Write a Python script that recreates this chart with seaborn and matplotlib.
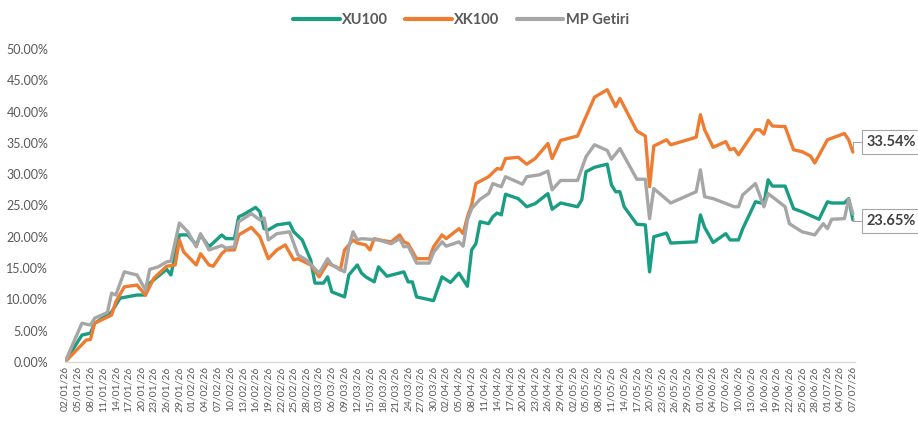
import pandas as pd
import matplotlib
matplotlib.use("Agg")
import matplotlib.pyplot as plt
import matplotlib.transforms as mtrans
from matplotlib.lines import Line2D
import seaborn as sns

series_names = ["XU100", "XK100", "MP Getiri"]
series_colors = ["#1a9e83", "#ee7c31", "#a6a6a6"]

xu100_dates = ["2026-01-02", "2026-01-06", "2026-01-08", "2026-01-09", "2026-01-12", "2026-01-13",
               "2026-01-15", "2026-01-19", "2026-01-21", "2026-01-22", "2026-01-26", "2026-01-27",
               "2026-01-29", "2026-01-31", "2026-02-02", "2026-02-03", "2026-02-05", "2026-02-08",
               "2026-02-09", "2026-02-11", "2026-02-12", "2026-02-13", "2026-02-16", "2026-02-17",
               "2026-02-18", "2026-02-19", "2026-02-21", "2026-02-24", "2026-02-25", "2026-02-27",
               "2026-03-01", "2026-03-02", "2026-03-04", "2026-03-05", "2026-03-06", "2026-03-09",
               "2026-03-10", "2026-03-12", "2026-03-13", "2026-03-14", "2026-03-16", "2026-03-17",
               "2026-03-19", "2026-03-23", "2026-03-24", "2026-03-25", "2026-03-26", "2026-03-30",
               "2026-04-01", "2026-04-03", "2026-04-05", "2026-04-07", "2026-04-08", "2026-04-09",
               "2026-04-10", "2026-04-12", "2026-04-13", "2026-04-14", "2026-04-15", "2026-04-16",
               "2026-04-19", "2026-04-21", "2026-04-23", "2026-04-26", "2026-04-27", "2026-04-29",
               "2026-05-03", "2026-05-04", "2026-05-05", "2026-05-07", "2026-05-10", "2026-05-11",
               "2026-05-12", "2026-05-13", "2026-05-14", "2026-05-17", "2026-05-19", "2026-05-20",
               "2026-05-21", "2026-05-24", "2026-05-25", "2026-05-31", "2026-06-01", "2026-06-02",
               "2026-06-04", "2026-06-07", "2026-06-08", "2026-06-10", "2026-06-11", "2026-06-14",
               "2026-06-16", "2026-06-17", "2026-06-18", "2026-06-21", "2026-06-23", "2026-06-25",
               "2026-06-29", "2026-07-01", "2026-07-02", "2026-07-05", "2026-07-06", "2026-07-07"]
xu100_values = [0.0, 4.3, 4.6, 6.2, 7.5, 8.0,
                10.2, 10.7, 10.7, 12.6, 14.8, 13.9,
                20.3, 20.3, 18.7, 20.3, 18.4, 20.3,
                19.7, 19.7, 23.2, 23.5, 24.7, 24.0,
                21.3, 21.1, 21.9, 22.2, 20.8, 19.5,
                16.3, 12.6, 12.6, 13.6, 11.2, 10.4,
                13.9, 15.5, 14.2, 13.6, 12.8, 15.2,
                13.7, 14.4, 12.8, 12.8, 10.4, 9.8,
                13.6, 12.7, 14.2, 12.1, 17.9, 18.9,
                22.4, 22.1, 23.2, 23.8, 23.5, 26.8,
                26.1, 24.8, 25.3, 26.9, 24.4, 25.4,
                24.8, 25.9, 30.4, 31.1, 31.6, 28.3,
                27.2, 27.2, 24.8, 22.0, 21.9, 14.4,
                20.0, 20.6, 19.0, 19.2, 23.5, 21.5,
                19.1, 20.5, 19.5, 19.5, 21.3, 25.6,
                25.3, 29.1, 28.1, 28.1, 24.5, 24.0,
                22.8, 25.6, 25.4, 25.4, 26.1, 22.7]

xk100_dates = ["2026-01-02", "2026-01-07", "2026-01-08", "2026-01-09", "2026-01-13", "2026-01-14",
               "2026-01-16", "2026-01-19", "2026-01-21", "2026-01-23", "2026-01-26", "2026-01-28",
               "2026-01-29", "2026-01-30", "2026-02-02", "2026-02-03", "2026-02-05", "2026-02-06",
               "2026-02-08", "2026-02-09", "2026-02-11", "2026-02-12", "2026-02-15", "2026-02-17",
               "2026-02-19", "2026-02-21", "2026-02-23", "2026-02-25", "2026-02-26", "2026-03-01",
               "2026-03-03", "2026-03-05", "2026-03-07", "2026-03-08", "2026-03-09", "2026-03-11",
               "2026-03-12", "2026-03-14", "2026-03-15", "2026-03-16", "2026-03-18", "2026-03-20",
               "2026-03-22", "2026-03-23", "2026-03-24", "2026-03-26", "2026-03-29", "2026-03-30",
               "2026-04-01", "2026-04-02", "2026-04-05", "2026-04-06", "2026-04-07", "2026-04-08",
               "2026-04-09", "2026-04-12", "2026-04-14", "2026-04-15", "2026-04-16", "2026-04-19",
               "2026-04-21", "2026-04-23", "2026-04-26", "2026-04-27", "2026-04-29", "2026-05-03",
               "2026-05-05", "2026-05-07", "2026-05-10", "2026-05-12", "2026-05-13", "2026-05-17",
               "2026-05-19", "2026-05-20", "2026-05-21", "2026-05-24", "2026-05-25", "2026-05-31",
               "2026-06-01", "2026-06-02", "2026-06-04", "2026-06-07", "2026-06-08", "2026-06-09",
               "2026-06-10", "2026-06-14", "2026-06-15", "2026-06-16", "2026-06-17", "2026-06-18",
               "2026-06-21", "2026-06-23", "2026-06-25", "2026-06-27", "2026-06-28", "2026-07-01",
               "2026-07-05", "2026-07-06", "2026-07-07"]
xk100_values = [0.0, 3.5, 3.6, 6.2, 7.5, 9.6,
                12.0, 12.3, 10.7, 13.4, 15.3, 15.5,
                19.5, 17.6, 15.5, 17.3, 15.5, 15.3,
                17.3, 17.9, 17.9, 20.3, 21.5, 20.0,
                16.5, 17.9, 18.7, 16.3, 16.5, 15.5,
                13.6, 15.8, 15.2, 14.7, 17.9, 19.5,
                19.0, 18.7, 17.9, 19.7, 19.4, 19.2,
                20.3, 19.2, 18.9, 16.5, 16.5, 18.4,
                20.3, 19.7, 21.3, 20.5, 23.2, 25.1,
                28.5, 29.6, 30.9, 30.8, 32.5, 32.7,
                31.6, 32.5, 34.9, 32.5, 35.4, 36.1,
                39.2, 42.3, 43.5, 40.8, 42.1, 36.9,
                36.1, 28.0, 34.5, 35.5, 34.7, 35.9,
                39.5, 37.1, 34.3, 35.2, 33.9, 34.1,
                33.1, 37.1, 37.1, 36.4, 38.6, 37.7,
                37.6, 33.9, 33.6, 32.9, 31.8, 35.5,
                36.5, 35.5, 33.54]

mp_dates = ["2026-01-02", "2026-01-06", "2026-01-08", "2026-01-09", "2026-01-12", "2026-01-13",
            "2026-01-14", "2026-01-16", "2026-01-19", "2026-01-21", "2026-01-22", "2026-01-24",
            "2026-01-26", "2026-01-27", "2026-01-29", "2026-01-31", "2026-02-02", "2026-02-03",
            "2026-02-05", "2026-02-08", "2026-02-09", "2026-02-11", "2026-02-12", "2026-02-15",
            "2026-02-17", "2026-02-18", "2026-02-19", "2026-02-21", "2026-02-24", "2026-02-26",
            "2026-02-28", "2026-03-03", "2026-03-05", "2026-03-06", "2026-03-09", "2026-03-10",
            "2026-03-11", "2026-03-12", "2026-03-13", "2026-03-17", "2026-03-20", "2026-03-22",
            "2026-03-23", "2026-03-24", "2026-03-26", "2026-03-29", "2026-03-30", "2026-04-01",
            "2026-04-02", "2026-04-05", "2026-04-06", "2026-04-07", "2026-04-08", "2026-04-10",
            "2026-04-12", "2026-04-13", "2026-04-15", "2026-04-16", "2026-04-20", "2026-04-21",
            "2026-04-24", "2026-04-26", "2026-04-27", "2026-04-29", "2026-05-03", "2026-05-05",
            "2026-05-07", "2026-05-10", "2026-05-11", "2026-05-13", "2026-05-17", "2026-05-19",
            "2026-05-20", "2026-05-21", "2026-05-25", "2026-05-31", "2026-06-01", "2026-06-02",
            "2026-06-04", "2026-06-09", "2026-06-10", "2026-06-11", "2026-06-14", "2026-06-16",
            "2026-06-17", "2026-06-21", "2026-06-22", "2026-06-25", "2026-06-28", "2026-06-30",
            "2026-07-01", "2026-07-02", "2026-07-05", "2026-07-06", "2026-07-07"]
mp_values = [0.0, 6.2, 5.9, 7.0, 7.9, 11.0,
             10.7, 14.4, 13.9, 11.5, 14.8, 15.2,
             16.0, 16.1, 22.2, 20.8, 18.4, 20.5,
             17.9, 18.6, 18.2, 18.4, 22.4, 23.7,
             22.7, 23.0, 19.5, 20.5, 20.8, 17.1,
             16.3, 14.2, 16.5, 15.5, 14.4, 18.4,
             20.8, 19.5, 19.7, 19.5, 18.9, 19.7,
             18.4, 18.5, 15.8, 15.8, 17.5, 19.2,
             18.5, 19.2, 18.5, 22.7, 24.5, 26.0,
             26.9, 28.5, 28.0, 29.6, 28.4, 29.6,
             29.9, 30.5, 27.5, 29.0, 29.0, 32.8,
             34.7, 33.8, 32.4, 34.1, 29.2, 29.2,
             22.9, 27.7, 25.4, 27.2, 30.7, 26.4,
             26.1, 24.8, 24.8, 26.7, 28.5, 24.8,
             26.9, 24.8, 22.1, 20.8, 20.3, 22.1,
             21.3, 22.8, 22.9, 26.0, 23.65]

end_label_series = ["XK100", "MP Getiri"]
end_label_texts = ["33.54%", "23.65%"]

y_ticks = [0, 5, 10, 15, 20, 25, 30, 35, 40, 45, 50]
tick_start, tick_end, tick_step_days = "2026-01-02", "2026-07-07", 3

# ---------------------------------------------------------------
frames = []
for name, d, v in [("XU100", xu100_dates, xu100_values),
                   ("XK100", xk100_dates, xk100_values),
                   ("MP Getiri", mp_dates, mp_values)]:
    frames.append(pd.DataFrame({"date": pd.to_datetime(d), "value": v, "series": name}))
df = pd.concat(frames, ignore_index=True)

sns.set_theme(style="white")
plt.rcParams["font.family"] = ["Lato", "DejaVu Sans"]

fig = plt.figure(figsize=(9.18, 4.24), dpi=100)
ax = fig.add_axes([65 / 918, 1 - 362 / 424, (855 - 65) / 918, (362 - 49) / 424])

palette = dict(zip(series_names, series_colors))
sns.lineplot(data=df, x="date", y="value", hue="series", hue_order=series_names,
             palette=palette, linewidth=2.4, ax=ax, legend=False, estimator=None)

ax.set_ylim(0, 50)
ax.set_xlim(pd.Timestamp(tick_start), pd.Timestamp(tick_end) + pd.Timedelta(hours=12))
ax.set_yticks(y_ticks)
ax.set_yticklabels([f"{t:.2f}%" for t in y_ticks], color="#595959", fontsize=9)

tick_dates = pd.date_range(tick_start, tick_end, freq=f"{tick_step_days}D")
ax.set_xticks(tick_dates)
ax.set_xticklabels([t.strftime("%d/%m/%y") for t in tick_dates], rotation=90,
                   color="#595959", fontsize=7.5)
shift = mtrans.ScaledTranslation(-6 / 100, 0, fig.dpi_scale_trans)
for lab in ax.get_xticklabels():
    lab.set_transform(lab.get_transform() + shift)
ax.tick_params(axis="both", length=0)
ax.tick_params(axis="y", pad=12)
ax.tick_params(axis="x", pad=3)
ax.set_xlabel("")
ax.set_ylabel("")
for s in ["top", "right", "left"]:
    ax.spines[s].set_visible(False)
ax.spines["bottom"].set_color("#d9d9d9")
ax.spines["bottom"].set_linewidth(1.0)
ax.grid(False)

# end labels
offsets = {"XK100": (14, 10), "MP Getiri": (14, -7)}
for name, txt in zip(end_label_series, end_label_texts):
    sub = df[df["series"] == name]
    last = sub.iloc[-1]
    ax.annotate(txt, xy=(last["date"], last["value"]), xytext=offsets[name],
                textcoords="offset pixels", ha="left", va="center",
                fontsize=10.5, fontweight="bold", color="#404040",
                bbox=dict(boxstyle="square,pad=0.35", fc="white", ec="#a6a6a6", lw=0.8),
                arrowprops=dict(arrowstyle="-", color="#a6a6a6", lw=0.8,
                                connectionstyle="angle,angleA=0,angleB=90,rad=0",
                                shrinkA=0, shrinkB=2, relpos=(0, 0.5)),
                annotation_clip=False)

handles = [Line2D([0], [0], color=c, lw=3) for c in series_colors]
leg = fig.legend(handles, series_names, loc="upper center", bbox_to_anchor=(0.502, 1.0),
                 ncol=3, frameon=False, handlelength=3.2, columnspacing=1.2, handletextpad=0.15,
                 prop={"family": ["Lato", "DejaVu Sans"], "weight": "bold", "size": 10.5})
for t in leg.get_texts():
    t.set_color("#595959")

fig.savefig("out.png", dpi=100)
